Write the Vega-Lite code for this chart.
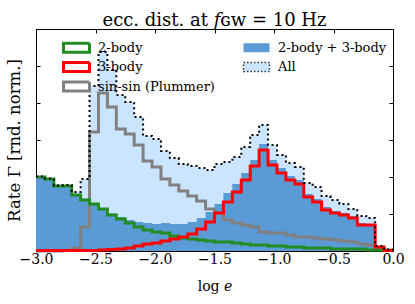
{
  "$schema": "https://vega.github.io/schema/vega-lite/v6.json",
  "width": 357,
  "height": 222,
  "autosize": {"type": "none"},
  "padding": {"left": 36, "top": 29, "right": 22, "bottom": 53},
  "title": {"text": "ecc. dist. at 𝑓ɢᴡ = 10 Hz", "font": "DejaVu Serif", "fontSize": 18, "fontWeight": "normal", "color": "black", "anchor": "middle", "frame": "group", "baseline": "alphabetic", "offset": -15},
  "config": {
    "view": {"stroke": "black", "strokeWidth": 1},
    "axis": {"tickSize": -4, "tickColor": "black", "tickWidth": 1, "domain": false, "grid": false, "labelFont": "DejaVu Serif", "labelFontSize": 14, "labelColor": "black", "titleFont": "DejaVu Serif", "titleFontSize": 14, "titleFontWeight": "normal", "titleColor": "black"}
  },
  "data": {"values": [
    {"lo": -3, "hi": -2.925, "g": 2.0, "r": 0.014, "s": 0, "b": 2.014, "a": 2.014},
    {"lo": -2.925, "hi": -2.85, "g": 1.946, "r": 0.014, "s": 0, "b": 1.96, "a": 1.96},
    {"lo": -2.85, "hi": -2.775, "g": 1.757, "r": 0.014, "s": 0, "b": 1.77, "a": 1.77},
    {"lo": -2.775, "hi": -2.7, "g": 1.757, "r": 0.014, "s": 0.014, "b": 1.77, "a": 1.784},
    {"lo": -2.7, "hi": -2.625, "g": 1.514, "r": 0.014, "s": 0.081, "b": 1.527, "a": 1.595},
    {"lo": -2.625, "hi": -2.55, "g": 1.378, "r": 0.014, "s": 0.649, "b": 1.392, "a": 1.946},
    {"lo": -2.55, "hi": -2.475, "g": 1.27, "r": 0.014, "s": 3.216, "b": 1.284, "a": 4.459},
    {"lo": -2.475, "hi": -2.4, "g": 1.135, "r": 0.027, "s": 4.27, "b": 1.162, "a": 5.378},
    {"lo": -2.4, "hi": -2.325, "g": 0.973, "r": 0.041, "s": 3.892, "b": 1.014, "a": 4.892},
    {"lo": -2.325, "hi": -2.25, "g": 0.865, "r": 0.054, "s": 3.297, "b": 0.919, "a": 4.216},
    {"lo": -2.25, "hi": -2.175, "g": 0.757, "r": 0.081, "s": 3.162, "b": 0.838, "a": 4.027},
    {"lo": -2.175, "hi": -2.1, "g": 0.649, "r": 0.135, "s": 2.865, "b": 0.784, "a": 3.622},
    {"lo": -2.1, "hi": -2.025, "g": 0.568, "r": 0.189, "s": 2.432, "b": 0.757, "a": 3.108},
    {"lo": -2.025, "hi": -1.95, "g": 0.514, "r": 0.216, "s": 2.27, "b": 0.73, "a": 3.027},
    {"lo": -1.95, "hi": -1.875, "g": 0.486, "r": 0.27, "s": 1.946, "b": 0.757, "a": 2.703},
    {"lo": -1.875, "hi": -1.8, "g": 0.405, "r": 0.324, "s": 1.784, "b": 0.73, "a": 2.514},
    {"lo": -1.8, "hi": -1.725, "g": 0.351, "r": 0.378, "s": 1.622, "b": 0.73, "a": 2.351},
    {"lo": -1.725, "hi": -1.65, "g": 0.324, "r": 0.459, "s": 1.486, "b": 0.784, "a": 2.297},
    {"lo": -1.65, "hi": -1.575, "g": 0.297, "r": 0.595, "s": 1.351, "b": 0.892, "a": 2.243},
    {"lo": -1.575, "hi": -1.5, "g": 0.27, "r": 0.784, "s": 1.135, "b": 1.054, "a": 2.189},
    {"lo": -1.5, "hi": -1.425, "g": 0.243, "r": 1.027, "s": 1.027, "b": 1.27, "a": 2.351},
    {"lo": -1.425, "hi": -1.35, "g": 0.243, "r": 1.324, "s": 0.838, "b": 1.568, "a": 2.405},
    {"lo": -1.35, "hi": -1.275, "g": 0.216, "r": 1.595, "s": 0.757, "b": 1.811, "a": 2.541},
    {"lo": -1.275, "hi": -1.2, "g": 0.189, "r": 1.919, "s": 0.703, "b": 2.108, "a": 2.811},
    {"lo": -1.2, "hi": -1.125, "g": 0.162, "r": 2.297, "s": 0.649, "b": 2.459, "a": 3.135},
    {"lo": -1.125, "hi": -1.05, "g": 0.162, "r": 2.73, "s": 0.514, "b": 2.892, "a": 3.405},
    {"lo": -1.05, "hi": -0.975, "g": 0.135, "r": 2.324, "s": 0.486, "b": 2.459, "a": 2.865},
    {"lo": -0.975, "hi": -0.9, "g": 0.135, "r": 2.108, "s": 0.486, "b": 2.243, "a": 2.595},
    {"lo": -0.9, "hi": -0.825, "g": 0.108, "r": 1.919, "s": 0.432, "b": 2.027, "a": 2.378},
    {"lo": -0.825, "hi": -0.75, "g": 0.108, "r": 1.811, "s": 0.378, "b": 1.919, "a": 2.27},
    {"lo": -0.75, "hi": -0.675, "g": 0.081, "r": 1.459, "s": 0.378, "b": 1.541, "a": 1.838},
    {"lo": -0.675, "hi": -0.6, "g": 0.081, "r": 1.324, "s": 0.351, "b": 1.405, "a": 1.73},
    {"lo": -0.6, "hi": -0.525, "g": 0.081, "r": 1.108, "s": 0.324, "b": 1.189, "a": 1.486},
    {"lo": -0.525, "hi": -0.45, "g": 0.054, "r": 1.027, "s": 0.297, "b": 1.081, "a": 1.378},
    {"lo": -0.45, "hi": -0.375, "g": 0.054, "r": 0.973, "s": 0.27, "b": 1.027, "a": 1.27},
    {"lo": -0.375, "hi": -0.3, "g": 0.054, "r": 0.892, "s": 0.243, "b": 0.946, "a": 1.135},
    {"lo": -0.3, "hi": -0.225, "g": 0.054, "r": 0.703, "s": 0.189, "b": 0.757, "a": 0.946},
    {"lo": -0.225, "hi": -0.15, "g": 0.027, "r": 0.703, "s": 0.162, "b": 0.73, "a": 0.892},
    {"lo": -0.15, "hi": -0.075, "g": 0.027, "r": 0.108, "s": 0.054, "b": 0.135, "a": 0.135},
    {"lo": -0.075, "hi": 0, "g": 0.014, "r": 0.014, "s": 0.027, "b": 0.027, "a": 0.041}
  ]},
  "transform": [
    {"fold": ["lo", "hi"], "as": ["edge", "xv"]},
    {"filter": "datum.edge == 'lo' || datum.xv > -0.01"}
  ],
  "layer": [
    {
      "mark": {"type": "area", "interpolate": "step-after", "color": "#cce5ff"},
      "encoding": {
        "x": {"field": "xv", "type": "quantitative", "scale": {"domain": [-3, 0], "nice": false, "zero": false},
              "axis": {"orient": "bottom", "values": [-3, -2.5, -2, -1.5, -1, -0.5, 0], "format": ".1f", "title": "log 𝑒", "labelPadding": 5, "titlePadding": 13, "labelFlush": false}},
        "y": {"field": "a", "type": "quantitative", "scale": {"domain": [0, 6], "nice": false},
              "axis": {"orient": "left", "values": [0, 1, 2, 3, 4, 5], "labels": false, "title": "Rate Γ [rnd. norm.]", "titleFontSize": 16.5, "titlePadding": 13}}
      }
    },
    {
      "mark": {"type": "area", "interpolate": "step-after", "color": "#5b9bd5"},
      "encoding": {
        "x": {"field": "xv", "type": "quantitative", "axis": {"orient": "top", "values": [-3, -2.5, -2, -1.5, -1, -0.5, 0], "labels": false, "title": null}},
        "y": {"field": "b", "type": "quantitative", "axis": {"orient": "right", "values": [0, 1, 2, 3, 4, 5], "labels": false, "title": null}}
      }
    },
    {
      "mark": {"type": "line", "interpolate": "step-after", "color": "#808080", "strokeWidth": 3},
      "encoding": {
        "x": {"field": "xv", "type": "quantitative", "axis": null},
        "y": {"field": "s", "type": "quantitative", "axis": null}
      }
    },
    {
      "mark": {"type": "line", "interpolate": "step-after", "color": "#228b22", "strokeWidth": 3},
      "encoding": {
        "x": {"field": "xv", "type": "quantitative", "axis": null},
        "y": {"field": "g", "type": "quantitative", "axis": null}
      }
    },
    {
      "mark": {"type": "line", "interpolate": "step-after", "color": "#ff0000", "strokeWidth": 3},
      "encoding": {
        "x": {"field": "xv", "type": "quantitative", "axis": null},
        "y": {"field": "r", "type": "quantitative", "axis": null}
      }
    },
    {
      "mark": {"type": "line", "interpolate": "step-after", "color": "black", "strokeWidth": 2, "strokeDash": [2, 3]},
      "encoding": {
        "x": {"field": "xv", "type": "quantitative", "axis": null},
        "y": {"field": "a", "type": "quantitative", "axis": null}
      }
    },
    {
      "data": {"values": [{"name": "2-body"}, {"name": "3-body"}, {"name": "sin-sin (Plummer)"}, {"name": "2-body + 3-body"}, {"name": "All"}]},
      "transform": [{"filter": "false"}],
      "mark": {"type": "point", "shape": "M-1,-0.346H1V0.346H-1Z", "filled": true, "opacity": 1, "size": 676},
      "encoding": {
        "fill": {"field": "name", "type": "nominal",
                 "scale": {"domain": ["2-body", "3-body", "sin-sin (Plummer)", "2-body + 3-body", "All"], "range": ["transparent", "transparent", "transparent", "#5b9bd5", "#cce5ff"]},
                 "legend": {"title": null, "orient": "none", "legendX": 26, "legendY": 12, "columns": 2, "symbolType": "M-1,-0.346H1V0.346H-1Z", "symbolSize": 676, "clipHeight": 13, "rowPadding": 5.5, "columnPadding": 27, "labelOffset": 7, "labelFont": "DejaVu Serif", "labelFontSize": 13, "labelColor": "black", "labelLimit": 220, "padding": 0}},
        "stroke": {"field": "name", "type": "nominal",
                   "scale": {"domain": ["2-body", "3-body", "sin-sin (Plummer)", "2-body + 3-body", "All"], "range": ["#228b22", "#ff0000", "#808080", "transparent", "#333333"]}},
        "strokeDash": {"field": "name", "type": "nominal",
                       "scale": {"domain": ["2-body", "3-body", "sin-sin (Plummer)", "2-body + 3-body", "All"], "range": [[1, 0], [1, 0], [1, 0], [1, 0], [1.5, 2]]}},
        "strokeWidth": {"field": "name", "type": "nominal",
                        "scale": {"type": "ordinal", "domain": ["2-body", "3-body", "sin-sin (Plummer)", "2-body + 3-body", "All"], "range": [3, 3, 3, 0, 1.5]}}
      }
    }
  ]
}
